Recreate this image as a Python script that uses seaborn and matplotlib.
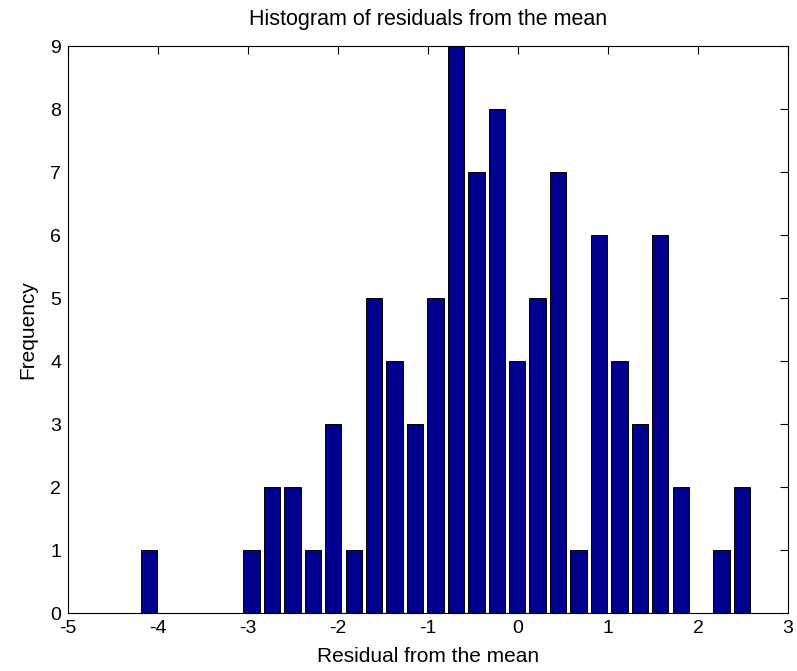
#!/usr/bin/env python3

import numpy as np
import pandas as pd
import seaborn as sns
import matplotlib.pyplot as plt

# hist(x, 30) output
bin_min = -4.21
bin_max = 2.603
counts = [1, 0, 0, 0, 0, 1, 2, 2, 1, 3, 1, 5, 4, 3, 5,
          9, 7, 8, 4, 5, 7, 1, 6, 4, 3, 6, 2, 0, 1, 2]
x_ticks = [-5, -4, -3, -2, -1, 0, 1, 2, 3]
y_ticks = [0, 1, 2, 3, 4, 5, 6, 7, 8, 9]

edges = np.linspace(bin_min, bin_max, len(counts) + 1)
centers = (edges[:-1] + edges[1:]) / 2
df = pd.DataFrame({'residual': centers, 'count': counts})

sns.set_style('white', {'text.color': 'black', 'axes.labelcolor': 'black',
                        'xtick.color': 'black', 'ytick.color': 'black'})
plt.rcParams['font.family'] = ['Liberation Sans', 'DejaVu Sans']
plt.rcParams['axes.unicode_minus'] = False

fig = plt.figure(figsize=(7.97, 6.71), dpi=100)
ax = fig.add_axes([0.0853, 0.0864, 0.9034, 0.845])

sns.histplot(data=df, x='residual', weights='count', bins=len(counts),
             binrange=(bin_min, bin_max), shrink=0.8,
             color='#00008F', edgecolor='black', linewidth=0.7, alpha=1, ax=ax)

ax.set_xlim(-5, 3)
ax.set_ylim(0, 9)
ax.set_xticks(x_ticks)
ax.set_yticks(y_ticks)
ax.tick_params(direction='in', top=True, right=True, length=5.5, width=0.8,
               labelsize=14, pad=5, colors='black')
for s in ax.spines.values():
    s.set_visible(True)
    s.set_color('black')
    s.set_linewidth(0.8)

ax.set_title('Histogram of residuals from the mean', fontsize=15.5, pad=15,
             color='black')
ax.set_xlabel('Residual from the mean', fontsize=15, labelpad=7, color='black')
ax.set_ylabel('Frequency', fontsize=15, labelpad=9, color='black')

fig.savefig('out.png', dpi=100)
